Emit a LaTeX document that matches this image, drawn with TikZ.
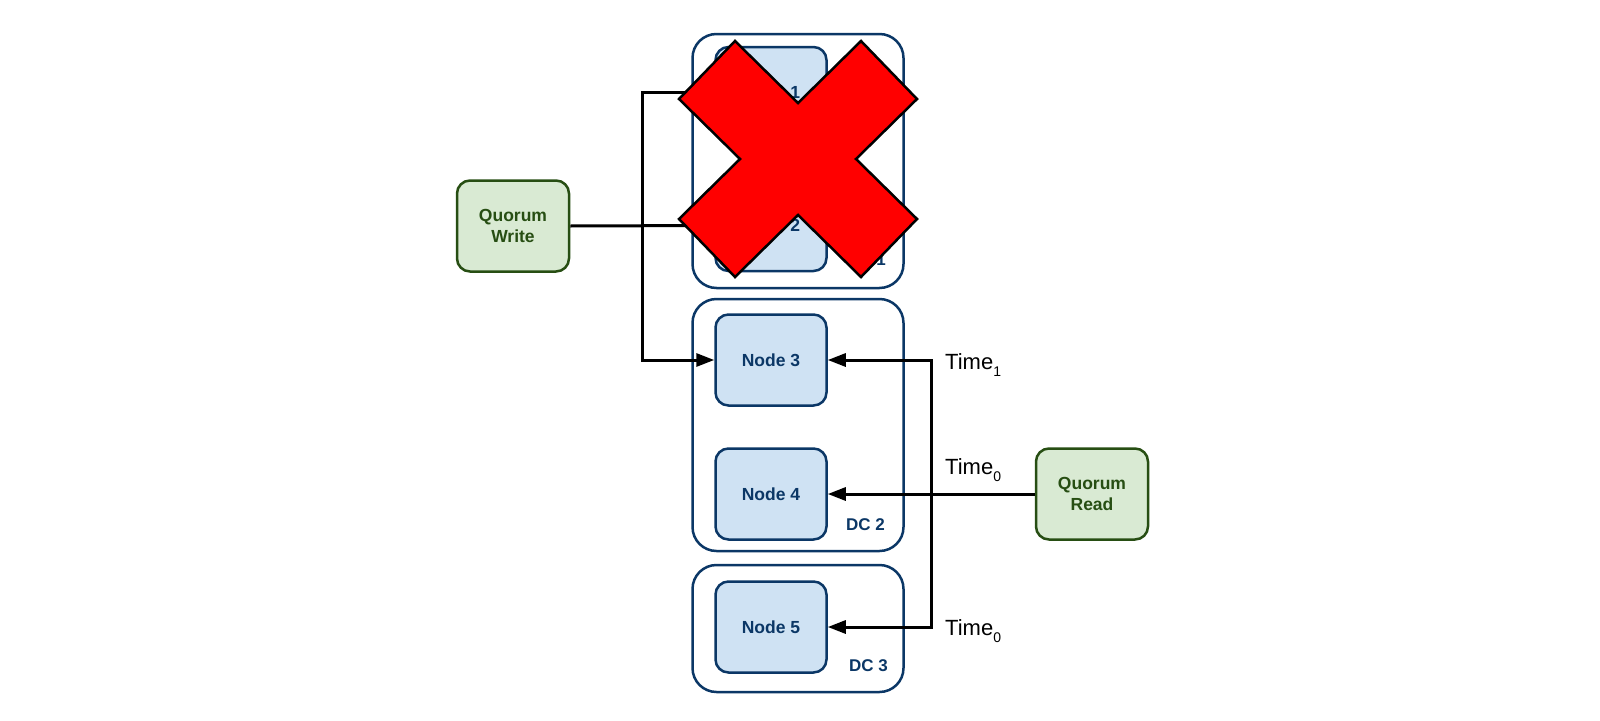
\documentclass[tikz,border=0pt]{standalone}
\usepackage{fontspec}
\setmainfont{Liberation Sans}
\usetikzlibrary{arrows.meta}
\definecolor{dcblue}{HTML}{0B3766}
\definecolor{nodefill}{HTML}{CFE2F3}
\definecolor{qfill}{HTML}{D9EAD3}
\definecolor{qborder}{HTML}{274E13}
\newcommand\tsub[1]{\raisebox{-7pt}{\fontsize{14}{14}\selectfont #1}}
\begin{document}
\begin{tikzpicture}[x=1pt,y=-1pt,
  dcbox/.style={draw=dcblue, line width=2.5pt, rounded corners=24pt, inner sep=0pt},
  srv/.style={draw=dcblue, fill=nodefill, line width=2.5pt, rounded corners=13pt,
    minimum width=111pt, minimum height=91pt, inner sep=0pt, text=dcblue,
    font=\bfseries\fontsize{17.5}{21}\selectfont},
  quorum/.style={draw=qborder, fill=qfill, line width=2.5pt, rounded corners=13pt,
    minimum width=112pt, minimum height=91pt, inner sep=0pt, text=qborder, align=center,
    font=\bfseries\fontsize{17.5}{21}\selectfont},
  conn/.style={line width=3pt, -{Triangle[length=18pt,width=13pt]}},
  dclbl/.style={text=dcblue, inner sep=0pt, anchor=base east, font=\bfseries\fontsize{17}{20}\selectfont},
  timelbl/.style={inner sep=0pt, anchor=base west, font=\fontsize{22}{24}\selectfont},
  xmark/.style={fill=red, draw=black, line width=2.5pt, line join=miter}]
\useasboundingbox (0,0) rectangle (1600,720);
% data centres
\node[dcbox, minimum width=211pt, minimum height=254pt] (dc1) at (798,161) {};
\node[dcbox, minimum width=211pt, minimum height=252pt] (dc2) at (798,425) {};
\node[dcbox, minimum width=211pt, minimum height=127pt] (dc3) at (798,628.5) {};
\node[dclbl] (l1) at (886,265) {DC 1};
\node[dclbl] (l2) at (885,530) {DC 2};
\node[dclbl] (l3) at (888,671) {DC 3};
% servers
\node[srv] (n1) at (771,92.5) {Node 1};
\node[srv] (n2) at (771,225.5) {Node 2};
\node[srv] (n3) at (771,360) {Node 3};
\node[srv] (n4) at (771,494) {Node 4};
\node[srv] (n5) at (771,627) {Node 5};
% clients
\node[quorum] (qw) at (513,226) {Quorum\\Write};
\node[quorum] (qr) at (1092,494) {Quorum\\Read};
\coordinate (jw) at (642,226);
\coordinate (jr) at (931,494);
% connectors
\draw[conn] (qw.east) -- (n2.west);
\draw[conn] (jw) |- (n1.west);
\draw[conn] (jw) |- (n3.west);
\draw[conn] (qr.west) -- (n4.east);
\draw[conn] (jr) |- (n3.east);
\draw[conn] (jr) |- (n5.east);
% labels
\node[timelbl] (t1) at (945,369) {Time\tsub{1}};
\node[timelbl] (t2) at (945,474) {Time\tsub{0}};
\node[timelbl] (t3) at (945,635) {Time\tsub{0}};
% the cross over DC 1
\draw[xmark, shift={(798,159)}] (-63,-118) -- (0,-56) -- (63,-118) -- (119,-60)
  -- (58,0) -- (119,60) -- (63,118) -- (0,56) -- (-63,118) -- (-119,60)
  -- (-58,0) -- (-119,-60) -- cycle;
\end{tikzpicture}
\end{document}
